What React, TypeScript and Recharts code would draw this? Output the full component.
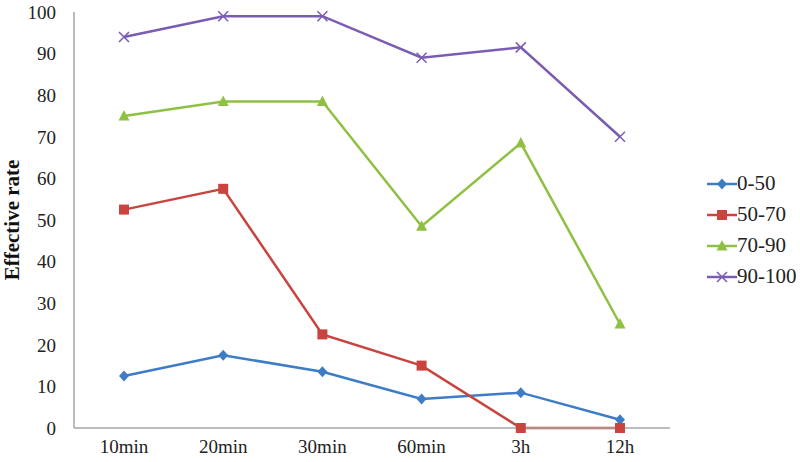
import React from 'react';
import { LineChart, Line, XAxis, YAxis, Label } from 'recharts';

// time points on the x axis
const times = ['10min', '20min', '30min', '60min', '3h', '12h'];

// effective rate per score group
const group0to50 = [12.5, 17.5, 13.5, 7, 8.5, 2];
const group50to70 = [52.5, 57.5, 22.5, 15, 0, 0];
const group70to90 = [75, 78.5, 78.5, 48.5, 68.5, 25];
const group90to100 = [94, 99, 99, 89, 91.5, 70];

const yTicks = [0, 10, 20, 30, 40, 50, 60, 70, 80, 90, 100];

const data = times.map((t, i) => ({
  time: t,
  g1: group0to50[i],
  g2: group50to70[i],
  g3: group70to90[i],
  g4: group90to100[i],
}));

const FONT = '"Liberation Serif", "Times New Roman", serif';

type Shape = 'diamond' | 'square' | 'triangle' | 'cross';

const series: { key: string; name: string; color: string; shape: Shape }[] = [
  { key: 'g1', name: '0-50', color: '#3d7cc6', shape: 'diamond' },
  { key: 'g2', name: '50-70', color: '#c9433f', shape: 'square' },
  { key: 'g3', name: '70-90', color: '#8fc043', shape: 'triangle' },
  { key: 'g4', name: '90-100', color: '#7a5cb5', shape: 'cross' },
];

// draws one marker centred at cx, cy
const Marker = ({ cx, cy, shape, color }: { cx: number; cy: number; shape: Shape; color: string }) => {
  if (cx == null || cy == null) return null;
  switch (shape) {
    case 'diamond':
      return <path d={`M${cx},${cy - 5.5}L${cx + 5},${cy}L${cx},${cy + 5.5}L${cx - 5},${cy}Z`} fill={color} />;
    case 'square':
      return <rect x={cx - 5} y={cy - 5} width={10} height={10} fill={color} />;
    case 'triangle':
      return <path d={`M${cx},${cy - 6}L${cx + 5.5},${cy + 4.5}L${cx - 5.5},${cy + 4.5}Z`} fill={color} />;
    default:
      return (
        <path
          d={`M${cx - 5},${cy - 5}L${cx + 5},${cy + 5}M${cx - 5},${cy + 5}L${cx + 5},${cy - 5}`}
          stroke={color}
          strokeWidth={1.5}
          fill="none"
        />
      );
  }
};

const makeDot = (shape: Shape, color: string) => (props: any) => (
  <Marker key={`${shape}-${props.index}`} cx={props.cx} cy={props.cy} shape={shape} color={color} />
);

// legend drawn beside the chart, like the original
const LegendBox = () => (
  <div style={{ position: 'absolute', left: 707, top: 168, fontFamily: FONT, fontSize: 21, color: '#222' }}>
    {series.map((s) => (
      <div key={s.key} style={{ display: 'flex', alignItems: 'center', height: 31 }}>
        <svg width={30} height={14}>
          <line x1={0} y1={7} x2={30} y2={7} stroke={s.color} strokeWidth={2.5} />
          <Marker cx={15} cy={7} shape={s.shape} color={s.color} />
        </svg>
        <span>{s.name}</span>
      </div>
    ))}
  </div>
);

const App = () => {
  return (
    <div
      style={{
        position: 'absolute',
        left: 0,
        top: 0,
        width: 800,
        height: 462,
        background: '#fff',
        fontFamily: FONT,
      }}
    >
      <LineChart
        width={800}
        height={462}
        data={data}
        margin={{ top: 12, right: 130, bottom: 0, left: 0 }}
      >
        <XAxis
          dataKey="time"
          height={34}
          padding={{ left: 50, right: 50 }}
          tickLine={false}
          tickSize={0}
          tickMargin={12}
          axisLine={{ stroke: '#a6a6a6', strokeWidth: 1.5 }}
          tick={{ fill: '#222', fontSize: 19, fontFamily: FONT }}
        />
        <YAxis
          width={74}
          domain={[0, 100]}
          ticks={yTicks}
          interval={0}
          tickLine={false}
          tickSize={0}
          tickMargin={18}
          axisLine={{ stroke: '#a6a6a6', strokeWidth: 1.5 }}
          tick={{ fill: '#222', fontSize: 19, fontFamily: FONT }}
        >
          <Label
            value="Effective rate"
            angle={-90}
            position="insideLeft"
            offset={12}
            style={{ fontFamily: FONT, fontSize: 21, fontWeight: 'bold', fill: '#111', textAnchor: 'middle' }}
          />
        </YAxis>
        {series.map((s) => (
          <Line
            key={s.key}
            type="linear"
            dataKey={s.key}
            name={s.name}
            stroke={s.color}
            strokeWidth={2.5}
            dot={makeDot(s.shape, s.color)}
            activeDot={false}
            isAnimationActive={false}
          />
        ))}
      </LineChart>
      <LegendBox />
    </div>
  );
};

export default App;
